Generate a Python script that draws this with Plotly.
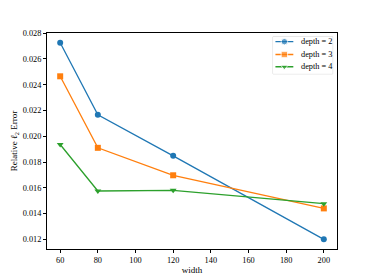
import plotly.graph_objects as go

widths = [60, 80, 120, 200]
depth2 = [0.02725, 0.02166, 0.01848, 0.01200]
depth3 = [0.02465, 0.01910, 0.01697, 0.01440]
depth4 = [0.01936, 0.01575, 0.01580, 0.01477]
series_names = ["depth = 2", "depth = 3", "depth = 4"]
colors = ["#1f77b4", "#ff7f0e", "#2ca02c"]
symbols = ["circle", "square", "triangle-down"]
y_ticks = [0.012, 0.014, 0.016, 0.018, 0.020, 0.022, 0.024, 0.026, 0.028]
x_ticks = [60, 80, 100, 120, 140, 160, 180, 200]

font = "Liberation Serif, Times New Roman, serif"
fig = go.Figure()
for name, ys, c, s in zip(series_names, [depth2, depth3, depth4], colors, symbols):
    fig.add_trace(go.Scatter(x=widths, y=ys, name=name, mode="lines+markers",
                             line=dict(color=c, width=1.3),
                             marker=dict(color=c, symbol=s, size=6),
                             showlegend=False))

# compact matplotlib-style legend drawn in its own small box axes (0..1 box units)
leg_rows = [0.865, 0.52, 0.19]
for name, c, s, ry in zip(series_names, colors, symbols, leg_rows):
    fig.add_trace(go.Scatter(x=[0.04, 0.19, 0.34], y=[ry, ry, ry], xaxis="x2", yaxis="y2",
                             mode="lines+markers", line=dict(color=c, width=1.3),
                             marker=dict(color=c, symbol=s, size=[0, 6.5, 0]),
                             showlegend=False, hoverinfo="skip"))
    fig.add_annotation(x=0.43, y=ry, xref="x2", yref="y2", text=name, showarrow=False,
                       xanchor="left", yanchor="middle",
                       font=dict(family=font, size=8.3, color="black"))
fig.add_shape(type="rect", xref="x2 domain", yref="y2 domain", x0=0, x1=1, y0=0, y1=1,
              line=dict(color="#d4d4d4", width=1), fillcolor="rgba(255,255,255,0.8)", layer="below")

tick_font = dict(family=font, size=8.3, color="black")
title_font = dict(family=font, size=9, color="black")
# page body has an 8px margin, so the figure is shrunk by 8px each way
fig.update_layout(
    template="none",
    width=366, height=272,
    margin=dict(l=39, r=37, t=25, b=31, autoexpand=False),
    plot_bgcolor="white", paper_bgcolor="white",
    font=dict(family=font, size=8.3, color="black"),
    showlegend=False,
    xaxis=dict(range=[53, 207], tickvals=x_ticks, showgrid=False, zeroline=False,
               showline=True, linecolor="black", linewidth=1, mirror=True,
               ticks="outside", ticklen=3, tickcolor="black", tickwidth=1, automargin=False,
               tickfont=tick_font,
               title=dict(text="width", font=title_font, standoff=2)),
    yaxis=dict(range=[0.01125, 0.02801], tickvals=y_ticks, tickformat=".3f",
               showgrid=False, zeroline=False, automargin=False,
               showline=True, linecolor="black", linewidth=1, mirror=True,
               ticks="outside", ticklen=3, tickcolor="black", tickwidth=1,
               tickfont=tick_font,
               title=dict(text="Relative <i>ℓ</i><sub>2</sub> Error", font=title_font, standoff=3)),
    xaxis2=dict(domain=[0.7795, 0.985], range=[0, 1], visible=False, anchor="y2", fixedrange=True),
    yaxis2=dict(domain=[0.811, 0.983], range=[0, 1], visible=False, anchor="x2", fixedrange=True),
)
fig.write_html("out.html")
